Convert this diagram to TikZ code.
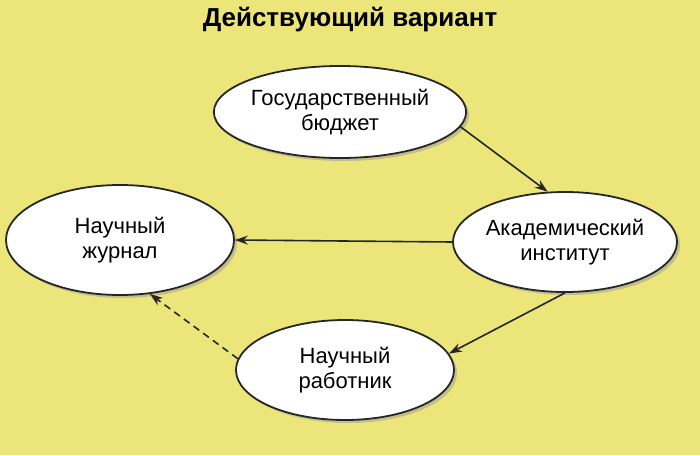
\documentclass[tikz,border=0pt]{standalone}
\usepackage{fontspec}
\setmainfont{Liberation Sans}
\usetikzlibrary{shapes.geometric,shadows,arrows.meta}
\definecolor{bg}{HTML}{ECE57A}
\tikzset{
  ell/.style={ellipse, draw=black!85, line width=1.8pt, fill=white, align=center,
    font=\fontsize{22}{25}\selectfont, inner sep=0pt,
    drop shadow={shadow xshift=3pt, shadow yshift=-3pt, fill=black!40}},
  conn/.style={-{Stealth[length=13pt,width=9pt]}, line width=1.6pt, black!85}
}
\begin{document}
\begin{tikzpicture}[x=1pt,y=-1pt]
\fill[bg] (0,0) rectangle (700,455);
\useasboundingbox (0,0) rectangle (700,455);
\node[font=\bfseries\fontsize{26}{30}\selectfont] (t) at (350,20) {Действующий вариант};
\node[ell, minimum width=212pt, minimum height=92pt] (gb) at (340,112) {Государственный\\бюджет};
\node[ell, minimum width=200pt, minimum height=100pt] (ai) at (565,242) {Академический\\институт};
\node[ell, minimum width=228pt, minimum height=110pt] (nj) at (120,240) {Научный\\журнал};
\node[ell, minimum width=218pt, minimum height=100pt] (nr) at (345,370) {Научный\\работник};
\draw[conn] (gb.-7) -- (ai.109);
\draw[conn] (ai.180) -- (nj.0);
\draw[conn] (ai.-90) -- (nr.9);
\draw[conn, dash pattern=on 7pt off 5pt] (nr.174) -- (nj.-61);
\end{tikzpicture}
\end{document}
